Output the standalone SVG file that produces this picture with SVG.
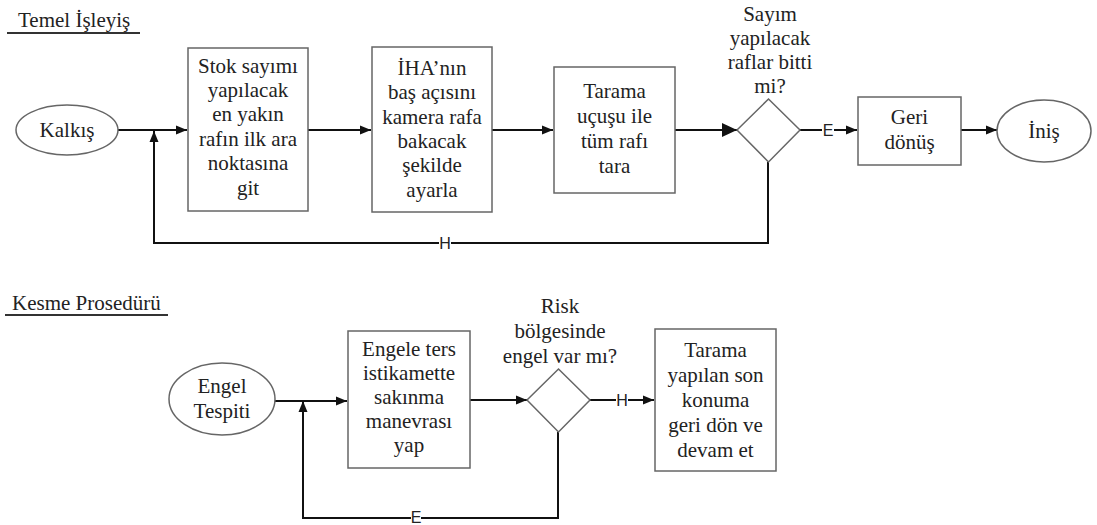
<svg xmlns="http://www.w3.org/2000/svg" width="1097" height="525" viewBox="0 0 1097 525">
<defs>
<marker id="arr" markerUnits="userSpaceOnUse" markerWidth="12" markerHeight="10" refX="11" refY="5" orient="auto"><path d="M0,0.5 L11,5 L0,9.5 z" fill="#111"/></marker>
<marker id="arrBig" markerUnits="userSpaceOnUse" markerWidth="16" markerHeight="14" refX="15" refY="7" orient="auto"><path d="M0,0 L15,7 L0,14 z" fill="#111"/></marker>
<style>
.box{fill:#fff;stroke:#666;stroke-width:1.5}
.t{font-family:'Liberation Serif','Times New Roman',serif;font-size:21px;fill:#222;text-anchor:middle}
.title{font-family:'Liberation Serif','Times New Roman',serif;font-size:21px;fill:#222}
.ul{stroke:#333;stroke-width:1.8}
.c{fill:none;stroke:#111;stroke-width:2}
.lbl{font-family:'Liberation Sans',Arial,sans-serif;font-size:16px;fill:#222;text-anchor:middle}
</style>
</defs>

<g id="title-temel">
<text class="title" x="18" y="27">Temel İşleyiş</text>
<line class="ul" x1="7" y1="33" x2="140" y2="33"/>
</g>
<g id="title-kesme">
<text class="title" x="12" y="310">Kesme Prosedürü</text>
<line class="ul" x1="5" y1="315" x2="168" y2="315"/>
</g>

<g id="connectors">
<line class="c" x1="118" y1="130" x2="187" y2="130" marker-end="url(#arr)"/>
<line class="c" x1="308" y1="130" x2="371" y2="130" marker-end="url(#arr)"/>
<line class="c" x1="492" y1="130" x2="553" y2="130" marker-end="url(#arr)"/>
<line class="c" x1="675" y1="130" x2="737" y2="130" marker-end="url(#arrBig)"/>
<line class="c" x1="800" y1="130" x2="822" y2="130"/>
<line class="c" x1="834" y1="130" x2="857" y2="130" marker-end="url(#arr)"/>
<line class="c" x1="961" y1="130" x2="997" y2="130" marker-end="url(#arr)"/>
<polyline class="c" points="768,162 768,243 451,243"/>
<polyline class="c" points="439,243 154,243 154,131" marker-end="url(#arr)"/>
<text class="lbl" x="445" y="249">H</text>
<text class="lbl" x="828" y="136">E</text>

<line class="c" x1="275" y1="401" x2="347" y2="401" marker-end="url(#arr)"/>
<line class="c" x1="470" y1="400" x2="527" y2="400" marker-end="url(#arr)"/>
<line class="c" x1="590" y1="400" x2="616" y2="400"/>
<line class="c" x1="628" y1="400" x2="654" y2="400" marker-end="url(#arr)"/>
<polyline class="c" points="558,432 558,518 421,518"/>
<polyline class="c" points="411,518 303,518 303,401" marker-end="url(#arr)"/>
<text class="lbl" x="622" y="406">H</text>
<text class="lbl" x="416" y="523">E</text>
</g>

<g id="kalkis">
<ellipse class="box" cx="67" cy="130" rx="51" ry="25"/>
<text class="t" x="67" y="137">Kalkış</text>
</g>

<g id="stok">
<rect class="box" x="188" y="48" width="120" height="163"/>
<text class="t" x="248" y="73">Stok sayımı</text>
<text class="t" x="248" y="97">yapılacak</text>
<text class="t" x="248" y="121">en yakın</text>
<text class="t" x="248" y="146">rafın ilk ara</text>
<text class="t" x="248" y="170">noktasına</text>
<text class="t" x="248" y="195">git</text>
</g>

<g id="iha">
<rect class="box" x="372" y="47" width="120" height="165"/>
<text class="t" x="432" y="75">İHA’nın</text>
<text class="t" x="432" y="99">baş açısını</text>
<text class="t" x="432" y="124">kamera rafa</text>
<text class="t" x="432" y="148">bakacak</text>
<text class="t" x="432" y="172">şekilde</text>
<text class="t" x="432" y="197">ayarla</text>
</g>

<g id="tarama">
<rect class="box" x="554" y="67" width="121" height="126"/>
<text class="t" x="614.5" y="98">Tarama</text>
<text class="t" x="614.5" y="123">uçuşu ile</text>
<text class="t" x="614.5" y="148">tüm rafı</text>
<text class="t" x="614.5" y="173">tara</text>
</g>

<g id="karar1">
<polygon class="box" points="737,130 768.5,99 800,130 768.5,162"/>
<text class="t" x="770" y="21">Sayım</text>
<text class="t" x="770" y="45">yapılacak</text>
<text class="t" x="770" y="69">raflar bitti</text>
<text class="t" x="770" y="93">mi?</text>
</g>

<g id="geri">
<rect class="box" x="858" y="97" width="103" height="68"/>
<text class="t" x="909.5" y="124">Geri</text>
<text class="t" x="909.5" y="149">dönüş</text>
</g>

<g id="inis">
<ellipse class="box" cx="1044" cy="131" rx="47" ry="31"/>
<text class="t" x="1044" y="138">İniş</text>
</g>

<g id="engel">
<ellipse class="box" cx="222" cy="399" rx="53" ry="36"/>
<text class="t" x="222" y="393">Engel</text>
<text class="t" x="222" y="418">Tespiti</text>
</g>

<g id="sakinma">
<rect class="box" x="348" y="331" width="122" height="137"/>
<text class="t" x="409" y="356">Engele ters</text>
<text class="t" x="409" y="380">istikamette</text>
<text class="t" x="409" y="404">sakınma</text>
<text class="t" x="409" y="428">manevrası</text>
<text class="t" x="409" y="452">yap</text>
</g>

<g id="karar2">
<polygon class="box" points="527,400 558.5,369 590,400 558.5,432"/>
<text class="t" x="560" y="313">Risk</text>
<text class="t" x="560" y="338">bölgesinde</text>
<text class="t" x="560" y="363">engel var mı?</text>
</g>

<g id="donus">
<rect class="box" x="655" y="329" width="121" height="142"/>
<text class="t" x="715.5" y="357">Tarama</text>
<text class="t" x="715.5" y="382">yapılan son</text>
<text class="t" x="715.5" y="407">konuma</text>
<text class="t" x="715.5" y="432">geri dön ve</text>
<text class="t" x="715.5" y="457">devam et</text>
</g>
</svg>
